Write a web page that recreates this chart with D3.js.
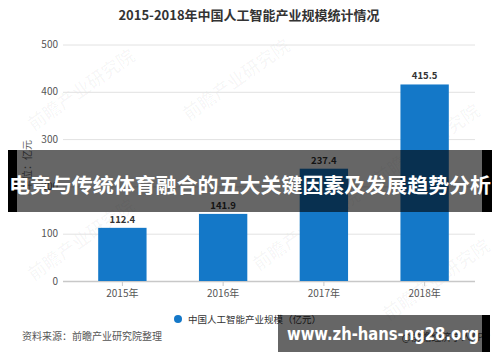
<!DOCTYPE html>
<html>
<head>
<meta charset="utf-8">
<script src="https://cdn.jsdelivr.net/npm/d3@7"></script>
<style>
	body {margin: 0; background: #fff;}
	svg {display: block; font-family: "Noto Sans CJK SC", "Noto Sans", sans-serif;}
</style>
</head>
<body>
<svg width="500" height="362"></svg>
<script>
'use strict';
// chart data
let aYears = ["2015年", "2016年", "2017年", "2018年"]
let aValues = [112.4, 141.9, 237.4, 415.5]
let aYTicks = [0, 100, 200, 300, 400, 500]
let sTitle = "2015-2018年中国人工智能产业规模统计情况"
let sSeries = "中国人工智能产业规模（亿元）"
let sUnit = "单位：亿元"
let sSource = "资料来源：前瞻产业研究院整理"
let sCredit = "@前瞻经济学人APP"
let sBanner = "电竞与传统体育融合的五大关键因素及发展趋势分析"
let sSite = "www.zh-hans-ng28.org"

let eSvg = d3.select("svg"),
	dWidth = +eSvg.attr("width"),
	dHeight = +eSvg.attr("height")

let cBar = "#1478c8"

let sX = d3.scaleBand().domain(aYears).range([72, 475]).paddingInner(0.52).paddingOuter(0.26)
let sY = d3.scaleLinear().domain([0, 500]).range([281, 44.5])

// faint watermarks
let aMarks = [[85, 95], [240, 85], [85, 245], [310, 235], [430, 150], [440, 285]]
eSvg.append("g").selectAll("text")
	.data(aMarks).enter().append("text")
	.attr("transform", d => `translate(${d[0]},${d[1]}) rotate(-35)`)
	.attr("text-anchor", "middle")
	.attr("font-size", 18).attr("font-weight", "bold")
	.attr("fill", "#000").attr("fill-opacity", 0.03)
	.text("前瞻产业研究院")

// title
eSvg.append("text")
	.attr("x", 249).attr("y", 20)
	.attr("text-anchor", "middle")
	.attr("font-size", 13).attr("font-weight", "bold")
	.attr("fill", "#333")
	.text(sTitle)

// grid + y labels
let eGrid = eSvg.append("g")
eGrid.selectAll("line")
	.data(aYTicks).enter().append("line")
	.attr("x1", 63).attr("x2", 475)
	.attr("y1", d => sY(d) + 0.5).attr("y2", d => sY(d) + 0.5)
	.attr("stroke", d => d === 0 ? "#c8c8c8" : "#e2e2e2")
	.attr("stroke-width", d => d === 0 ? 1.5 : 1)
eGrid.selectAll("text")
	.data(aYTicks).enter().append("text")
	.attr("x", 58).attr("y", d => sY(d) + 3.5)
	.attr("text-anchor", "end")
	.attr("font-size", 10).attr("fill", "#555")
	.text(d => d)

// unit label
eSvg.append("text")
	.attr("transform", "translate(31,165) rotate(-90)")
	.attr("text-anchor", "middle")
	.attr("font-size", 10).attr("fill", "#666")
	.text(sUnit)

// bars
eSvg.append("g").selectAll("rect")
	.data(aValues).enter().append("rect")
	.attr("x", (d, i) => sX(aYears[i]))
	.attr("width", sX.bandwidth())
	.attr("y", d => sY(d))
	.attr("height", d => sY(0) - sY(d))
	.attr("fill", cBar)

// value labels
eSvg.append("g").selectAll("text")
	.data(aValues).enter().append("text")
	.attr("x", (d, i) => sX(aYears[i]) + sX.bandwidth() / 2)
	.attr("y", d => sY(d) - 5)
	.attr("text-anchor", "middle")
	.attr("font-size", 9.5).attr("font-weight", "bold")
	.attr("fill", "#333")
	.text(d => d.toFixed(1))

// x axis ticks + labels
let eXAxis = eSvg.append("g")
eXAxis.selectAll("line")
	.data(aYears).enter().append("line")
	.attr("x1", d => sX(d) + sX.bandwidth() / 2).attr("x2", d => sX(d) + sX.bandwidth() / 2)
	.attr("y1", 282).attr("y2", 286)
	.attr("stroke", "#c8c8c8")
eXAxis.selectAll("text")
	.data(aYears).enter().append("text")
	.attr("x", d => sX(d) + sX.bandwidth() / 2)
	.attr("y", 297)
	.attr("text-anchor", "middle")
	.attr("font-size", 10).attr("fill", "#555")
	.text(d => d)

// legend
eSvg.append("circle")
	.attr("cx", 178).attr("cy", 319).attr("r", 4)
	.attr("fill", cBar)
eSvg.append("text")
	.attr("x", 188).attr("y", 322.5)
	.attr("font-size", 9.5).attr("fill", "#333")
	.text(sSeries)

// source + credit
eSvg.append("text")
	.attr("x", 22).attr("y", 340)
	.attr("font-size", 10).attr("fill", "#555")
	.text(sSource)
eSvg.append("text")
	.attr("x", 490).attr("y", 341)
	.attr("text-anchor", "end")
	.attr("font-size", 10).attr("fill", "#555")
	.text(sCredit)

// overlay banner across the chart
let eBan = eSvg.append("g")
eBan.append("rect").attr("x", 8).attr("y", 150).attr("width", 484).attr("height", 62)
	.attr("fill", "#000").attr("fill-opacity", 0.6)
eBan.append("rect").attr("x", 8).attr("y", 150).attr("width", 9).attr("height", 62).attr("fill", "#000")
eBan.append("rect").attr("x", 482).attr("y", 150).attr("width", 10).attr("height", 62).attr("fill", "#000")
eBan.append("text")
	.attr("x", 250).attr("y", 193)
	.attr("text-anchor", "middle")
	.attr("font-size", 20.5).attr("font-weight", "bold")
	.attr("fill", "#fff")
	.attr("textLength", 482).attr("lengthAdjust", "spacingAndGlyphs")
	.text(sBanner)

// site banner bottom right
let eSite = eSvg.append("g")
eSite.append("rect").attr("x", 278).attr("y", 315).attr("width", 212).attr("height", 37)
	.attr("fill", "#000").attr("fill-opacity", 0.6)
eSite.append("rect").attr("x", 482).attr("y", 315).attr("width", 8).attr("height", 37).attr("fill", "#000")
eSite.append("text")
	.attr("x", 383).attr("y", 340)
	.attr("text-anchor", "middle")
	.attr("font-size", 18).attr("font-weight", "bold")
	.attr("font-family", "'DejaVu Sans', sans-serif")
	.attr("fill", "#fff")
	.attr("textLength", 192).attr("lengthAdjust", "spacingAndGlyphs")
	.text(sSite)
</script>
</body>
</html>
